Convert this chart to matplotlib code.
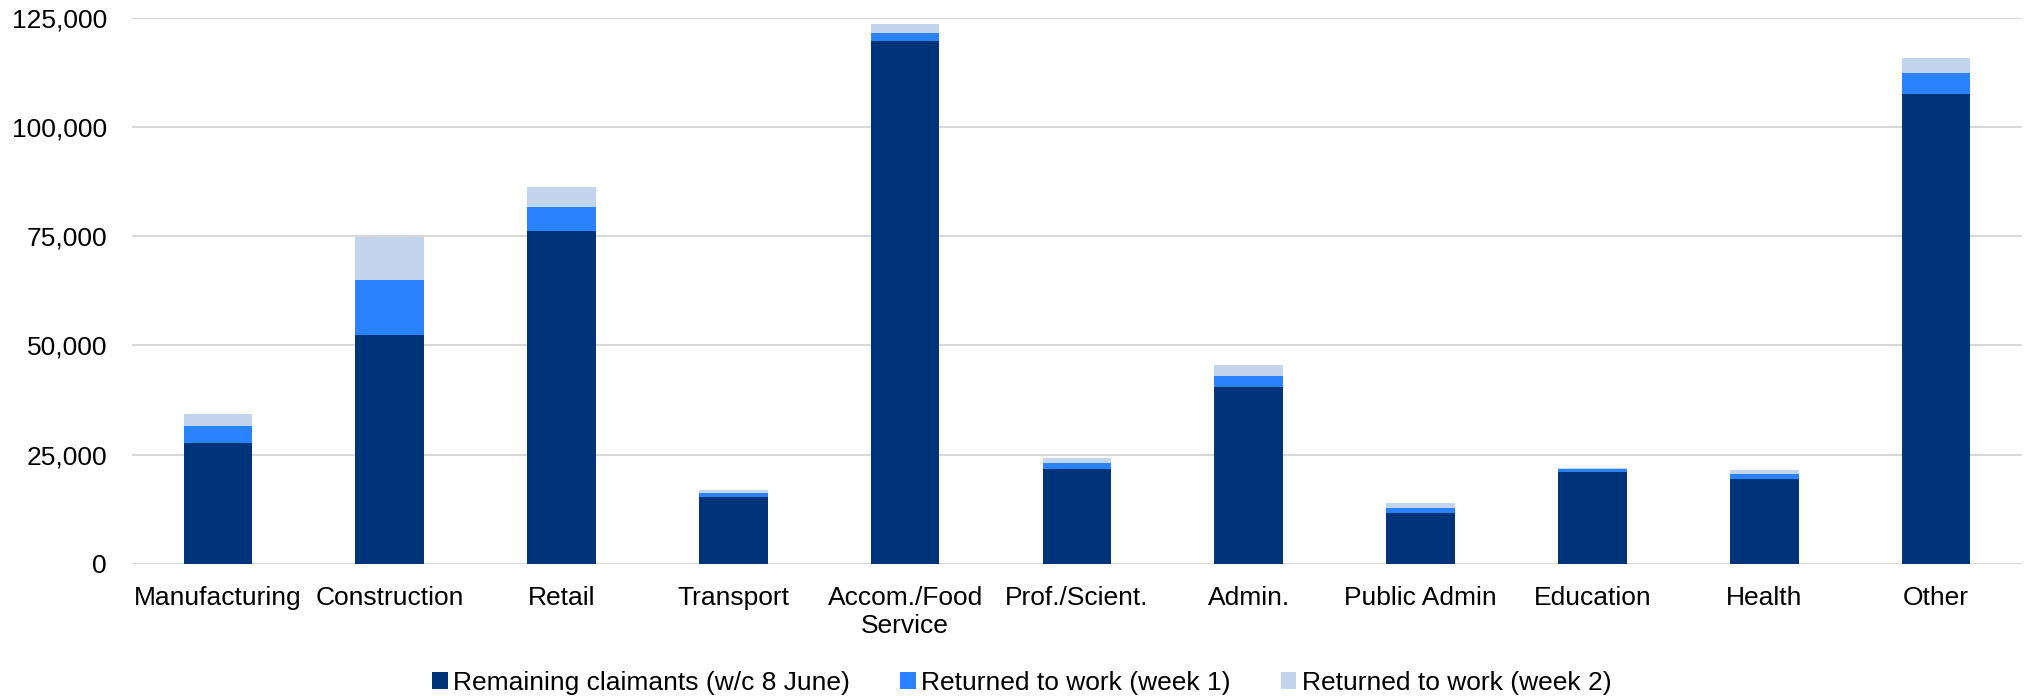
import numpy as np
import matplotlib.pyplot as plt
from matplotlib.ticker import FuncFormatter

plt.rcParams['font.family'] = ['Liberation Sans', 'DejaVu Sans']

# sectors and claimant counts
sectors = ['Manufacturing', 'Construction', 'Retail', 'Transport', 'Accom./Food\nService',
           'Prof./Scient.', 'Admin.', 'Public Admin', 'Education', 'Health', 'Other']
remaining = [27700, 52300, 76300, 15200, 119700, 21800, 40500, 11600, 21100, 19400, 107600]
week1 = [3750, 12600, 5400, 1100, 2000, 1300, 2600, 1200, 600, 1100, 4800]
week2 = [2800, 9900, 4500, 700, 2000, 1050, 2400, 1050, 300, 1050, 3400]

series_names = ['Remaining claimants (w/c 8 June)', 'Returned to work (week 1)',
                'Returned to work (week 2)']
colors = ['#003478', '#2A82FF', '#C2D5EC']

fig = plt.figure(figsize=(20.31, 6.96), dpi=100)
ax = fig.add_axes([0.065, 0.19, 0.9305, 0.784])

x = np.arange(len(sectors))
w = 0.4
b1 = np.array(remaining)
b2 = b1 + np.array(week1)
ax.bar(x, remaining, w, color=colors[0], label=series_names[0], zorder=3)
ax.bar(x, week1, w, bottom=b1, color=colors[1], label=series_names[1], zorder=3)
ax.bar(x, week2, w, bottom=b2, color=colors[2], label=series_names[2], zorder=3)

ax.set_xlim(-0.5, len(sectors) - 0.5)
ax.set_ylim(0, 125000)
ax.set_yticks(np.arange(0, 125001, 25000))
ax.yaxis.set_major_formatter(FuncFormatter(lambda v, p: f'{int(v):,}'))
ax.set_xticks(x)
ax.set_xticklabels(sectors, linespacing=1.2)

ax.grid(axis='y', color='#D9D9D9', linewidth=1.5, zorder=0)
for s in ['top', 'right', 'left', 'bottom']:
    ax.spines[s].set_visible(False)
ax.tick_params(axis='both', length=0, labelsize=19, colors='black')
ax.tick_params(axis='x', pad=16)
ax.tick_params(axis='y', pad=18)

fig.legend(loc='center', bbox_to_anchor=(0.503, 0.019), ncol=3, frameon=False,
           fontsize=19, handlelength=0.6, handleheight=0.6, handletextpad=0.2,
           columnspacing=1.9)

fig.savefig('out.png', dpi=100)
